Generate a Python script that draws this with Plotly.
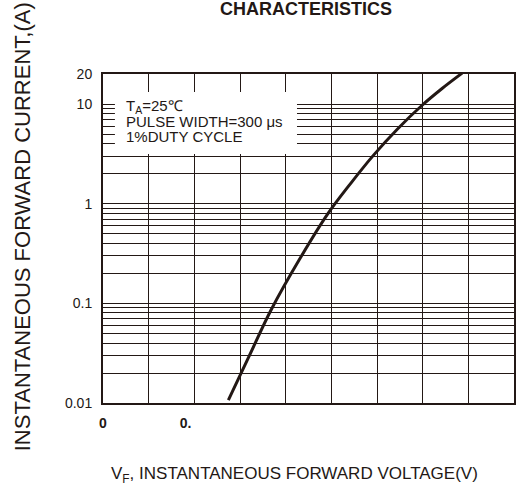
import plotly.graph_objects as go

# Curve data (forward voltage V, forward current A)
vf = [0.549, 0.640, 0.736, 0.860, 0.985, 1.085, 1.185, 1.290, 1.394, 1.485, 1.573]
i_f = [0.0107, 0.0295, 0.0857, 0.275, 0.794, 1.60, 3.07, 5.62, 9.55, 14.3, 20.4]

y_tickvals = [0.01, 0.1, 1, 10, 20]
y_ticktext = ["0.01", "0.1", "1", "10", "20"]
y_minor = [0.02, 0.03, 0.04, 0.05, 0.06, 0.07, 0.08, 0.09,
           0.2, 0.3, 0.4, 0.5, 0.6, 0.7, 0.8, 0.9,
           2, 3, 4, 5, 6, 7, 8, 9]
x_tickvals = [0, 0.362]
x_ticktext = ["0", "0."]

INK = "#231815"
FONT = "Liberation Sans, Arial, sans-serif"

fig = go.Figure()
fig.add_trace(go.Scatter(x=vf, y=i_f, mode="lines", line=dict(color=INK, width=3, shape="spline"),
                         showlegend=False, hoverinfo="skip"))

fig.update_layout(
    width=518, height=493,
    margin=dict(l=103, r=2, t=74, b=90),
    paper_bgcolor="white", plot_bgcolor="white",
    font=dict(family=FONT, color=INK, size=14),
    showlegend=False,
)

fig.update_xaxes(
    range=[0, 1.8], showgrid=False, zeroline=False,
    tickmode="array", tickvals=x_tickvals, ticktext=x_ticktext,
    tickfont=dict(family=FONT, size=14, color=INK, weight="bold"),
    ticks="outside", ticklen=6, tickcolor="rgba(0,0,0,0)",
    showline=True, linecolor=INK, linewidth=2, mirror=True,
    minor=dict(dtick=0.2, tick0=0, showgrid=True, gridcolor=INK, gridwidth=1.3, ticks=""),
)

fig.update_yaxes(
    type="log", range=[-2, 1.30103], zeroline=False,
    tickmode="array", tickvals=y_tickvals, ticktext=y_ticktext,
    showgrid=True, gridcolor=INK, gridwidth=1.3,
    tickfont=dict(family=FONT, size=14, color=INK),
    ticks="outside", ticklen=6, tickcolor="rgba(0,0,0,0)",
    showline=True, linecolor=INK, linewidth=2, mirror=True,
    minor=dict(tickmode="array", tickvals=y_minor, showgrid=True, gridcolor=INK, gridwidth=1.3, ticks=""),
)

# white box behind condition text
fig.add_shape(type="rect", xref="paper", yref="paper", x0=0.029, x1=0.472, y0=0.757, y1=0.945,
              fillcolor="white", line=dict(width=0), layer="above")

for txt, yy in [("T<sub>A</sub>=25℃", 0.900), ("PULSE WIDTH=300 μs", 0.856), ("1%DUTY CYCLE", 0.810)]:
    fig.add_annotation(text=txt, xref="paper", yref="paper", x=0.051, y=yy,
                       xanchor="left", yanchor="middle", showarrow=False,
                       font=dict(family=FONT, size=15, color=INK))

fig.add_annotation(text="<b>CHARACTERISTICS</b>", xref="paper", yref="paper", x=0.494, y=1.199,
                   xanchor="center", yanchor="middle", showarrow=False,
                   font=dict(family=FONT, size=18, color=INK))

fig.add_annotation(text="INSTANTANEOUS FORWARD CURRENT,(A)", xref="paper", yref="paper",
                   x=-0.194, y=0.535, textangle=-90, xanchor="center", yanchor="middle",
                   showarrow=False, font=dict(family=FONT, size=22, color=INK))

fig.add_annotation(text="V<sub>F</sub>, INSTANTANEOUS FORWARD VOLTAGE(V)", xref="paper", yref="paper",
                   x=0.466, y=-0.219, xanchor="center", yanchor="middle", showarrow=False,
                   font=dict(family=FONT, size=17, color=INK))

fig.write_html("out.html", config={"displayModeBar": False},
               post_script="document.body.style.margin='0';document.body.style.padding='0';")
